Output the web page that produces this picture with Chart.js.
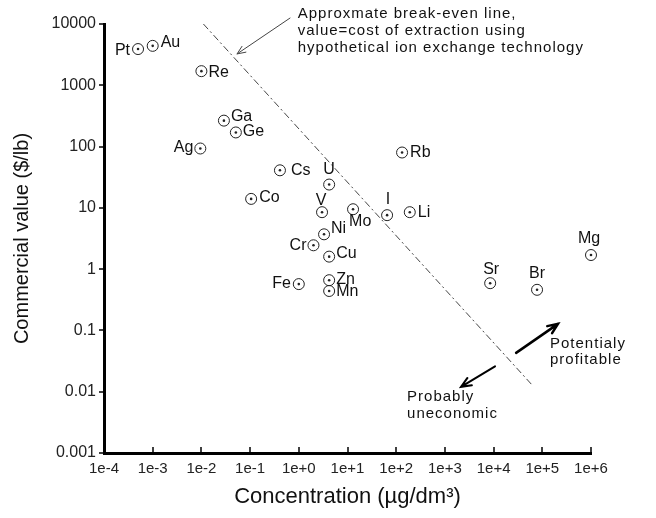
<!DOCTYPE html>
<html>
<head>
<meta charset="utf-8">
<script src="https://cdn.jsdelivr.net/npm/chart.js@4.4.0/dist/chart.umd.min.js"></script>
<style>
  html, body { margin: 0; padding: 0; background: #fff; }
  #wrap { width: 656px; height: 518px; }
</style>
</head>
<body>
<div id="wrap"><canvas id="chart"></canvas></div>
<script>
// element data: concentration in seawater (ug/dm3) vs commercial value ($/lb)
const elements = ['Pt','Au','Re','Ga','Ge','Ag','Cs','Co','U','V','Mo','I','Li','Rb','Ni','Cr','Cu','Fe','Zn','Mn','Sr','Br','Mg']
const concentration = [5e-4, 1e-3, 0.01, 0.029, 0.051, 0.0095, 0.41, 0.105, 4.2, 3.0, 13, 65, 190, 132, 3.3, 2.0, 4.2, 1.0, 4.2, 4.2, 8500, 78000, 1e6]
const commercialValue = [3900, 4400, 1700, 265, 170, 93, 41, 14, 24, 8.5, 9.5, 7.6, 8.5, 80, 3.7, 2.45, 1.6, 0.57, 0.66, 0.44, 0.59, 0.46, 1.7]

// break-even line end points
const breakEvenX = [0.011, 61000]
const breakEvenY = [10000, 0.013]

const xTicks = [1e-4, 1e-3, 1e-2, 1e-1, 1, 10, 100, 1e3, 1e4, 1e5, 1e6]
const xTickLabels = ['1e-4','1e-3','1e-2','1e-1','1e+0','1e+1','1e+2','1e+3','1e+4','1e+5','1e+6']
const yTicks = [0.001, 0.01, 0.1, 1, 10, 100, 1000, 10000]
const yTickLabels = ['0.001','0.01','0.1','1','10','100','1000','10000']

// where each element label sits relative to its marker: [align, dx, dy]
const labelPlace = {
  Pt: ['right', -8, 2], Au: ['left', 8, -3], Re: ['left', 7, 1], Ga: ['left', 7, -4],
  Ge: ['left', 7, -1], Ag: ['right', -7, -1], Cs: ['left', 11, 0], Co: ['left', 8, -1],
  U: ['center', 0, -15], V: ['center', -1, -12], Mo: ['left', -4, 12], I: ['center', 1, -16],
  Li: ['left', 8, 0], Rb: ['left', 8, 0], Ni: ['left', 7, -6], Cr: ['right', -7, 0],
  Cu: ['left', 7, -3], Fe: ['right', -8, -1], Zn: ['left', 7, -1], Mn: ['left', 7, 1],
  Sr: ['center', 1, -14], Br: ['center', 0, -16], Mg: ['center', -2, -16]
}

const FONT = '"Liberation Sans", Arial, sans-serif'
Chart.defaults.font.family = FONT
Chart.defaults.color = '#111'

const points = concentration.map((x, i) => ({ x: x, y: commercialValue[i] }))
const breakEven = breakEvenX.map((x, i) => ({ x: x, y: breakEvenY[i] }))

function drawArrow(ctx, x1, y1, x2, y2, head, width, color) {
  const a = Math.atan2(y2 - y1, x2 - x1)
  ctx.save()
  ctx.strokeStyle = color
  ctx.lineWidth = width
  ctx.lineCap = 'round'
  ctx.beginPath()
  ctx.moveTo(x1, y1)
  ctx.lineTo(x2, y2)
  ctx.moveTo(x2 - head * Math.cos(a - 0.4), y2 - head * Math.sin(a - 0.4))
  ctx.lineTo(x2, y2)
  ctx.lineTo(x2 - head * Math.cos(a + 0.4), y2 - head * Math.sin(a + 0.4))
  ctx.stroke()
  ctx.restore()
}

const extras = {
  id: 'extras',
  afterDatasetsDraw(chart) {
    const { ctx, scales: { x, y }, chartArea } = chart
    ctx.save()

    // tick marks
    ctx.strokeStyle = '#000'
    ctx.lineWidth = 1.5
    yTicks.forEach(v => {
      const py = Math.round(y.getPixelForValue(v))
      ctx.beginPath(); ctx.moveTo(chartArea.left - 5, py); ctx.lineTo(chartArea.left, py); ctx.stroke()
    })
    xTicks.forEach(v => {
      const px = Math.round(x.getPixelForValue(v))
      ctx.beginPath(); ctx.moveTo(px, chartArea.bottom); ctx.lineTo(px, chartArea.bottom - 6); ctx.stroke()
    })

    // element labels
    ctx.font = '16px ' + FONT
    ctx.fillStyle = '#111'
    ctx.textBaseline = 'middle'
    elements.forEach((el, i) => {
      const p = labelPlace[el]
      ctx.textAlign = p[0]
      ctx.fillText(el, x.getPixelForValue(concentration[i]) + p[1], y.getPixelForValue(commercialValue[i]) + p[2])
    })

    // annotations
    const X = v => x.getPixelForValue(v)
    const Y = v => y.getPixelForValue(v)
    ctx.font = '15px ' + FONT
    ctx.letterSpacing = '1px'
    ctx.textAlign = 'left'
    ;['Approxmate break-even line,', 'value=cost of extraction using', 'hypothetical ion exchange technology']
      .forEach((t, i) => ctx.fillText(t, X(0.95), Y(14500) + i * 17))
    ;['Potentialy', 'profitable'].forEach((t, i) => ctx.fillText(t, X(144000), Y(0.06) + i * 16))
    ;['Probably', 'uneconomic'].forEach((t, i) => ctx.fillText(t, X(167), Y(0.0083) + i * 17))
    ctx.letterSpacing = '0px'

    drawArrow(ctx, X(0.66), Y(12500), X(0.054), Y(3250), 9, 1, '#444')
    drawArrow(ctx, X(29000), Y(0.043), X(210000), Y(0.128), 11, 2.5, '#000')
    drawArrow(ctx, X(10700), Y(0.026), X(2140), Y(0.012), 11, 2, '#000')
    ctx.restore()
  }
}

new Chart('chart', {
  type: 'scatter',
  data: {
    datasets: [
      {
        data: points,
        pointStyle: 'circle',
        pointRadius: 5.5,
        borderColor: '#222',
        borderWidth: 1,
        backgroundColor: 'rgba(0,0,0,0)',
        clip: false
      },
      {
        data: points,
        pointRadius: 1.3,
        borderWidth: 0,
        backgroundColor: '#222',
        clip: false
      },
      {
        type: 'line',
        data: breakEven,
        borderColor: '#444',
        borderWidth: 1,
        borderDash: [7, 3, 2, 3],
        pointRadius: 0,
        fill: false
      }
    ]
  },
  options: {
    responsive: true,
    maintainAspectRatio: false,
    animation: false,
    layout: { padding: { top: 24, right: 65, left: 0, bottom: 0 } },
    plugins: { legend: { display: false }, tooltip: { enabled: false } },
    scales: {
      x: {
        type: 'logarithmic',
        min: 1e-4,
        max: 1e6,
        afterBuildTicks: s => { s.ticks = xTicks.map(v => ({ value: v })) },
        afterFit: s => { s.height = 65 },
        grid: { display: false, drawTicks: false },
        border: { display: true, width: 3, color: '#000' },
        ticks: {
          autoSkip: false,
          maxRotation: 0,
          padding: 7,
          color: '#222',
          font: { size: 15 },
          callback: (v, i) => xTickLabels[i]
        },
        title: {
          display: true,
          text: 'Concentration (\u00b5g/dm\u00b3)',
          color: '#111',
          font: { size: 22 },
          padding: { top: 0, bottom: 8 }
        }
      },
      y: {
        type: 'logarithmic',
        min: 0.001,
        max: 10000,
        afterBuildTicks: s => { s.ticks = yTicks.map(v => ({ value: v })) },
        afterFit: s => { s.width = 104 },
        grid: { display: false, drawTicks: false },
        border: { display: true, width: 3, color: '#000' },
        ticks: {
          autoSkip: false,
          padding: 8,
          color: '#222',
          font: { size: 16 },
          callback: (v, i) => yTickLabels[i]
        },
        title: {
          display: true,
          text: 'Commercial value ($/lb)',
          color: '#111',
          font: { size: 20 },
          padding: { top: 10, bottom: 0 }
        }
      }
    }
  },
  plugins: [extras]
})
</script>
</body>
</html>
